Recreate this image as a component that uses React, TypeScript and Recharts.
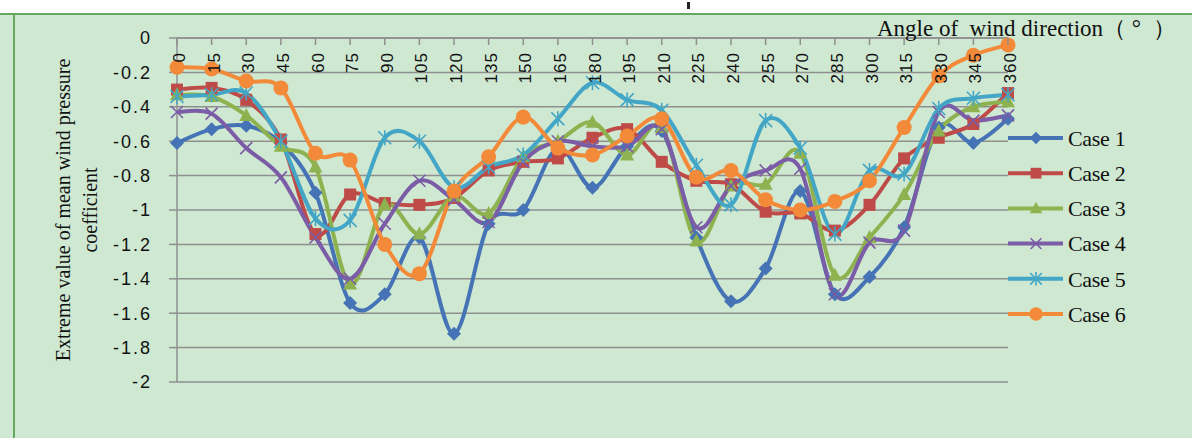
import { CartesianGrid, Legend, Line, LineChart, XAxis, YAxis } from 'recharts';

const ANGLES = [0, 15, 30, 45, 60, 75, 90, 105, 120, 135, 150, 165, 180, 195, 210, 225, 240, 255, 270, 285, 300, 315, 330, 345, 360];
const CASE_1 = [-0.61, -0.53, -0.51, -0.61, -0.9, -1.54, -1.49, -1.16, -1.72, -1.08, -1.0, -0.64, -0.87, -0.63, -0.54, -1.16, -1.53, -1.34, -0.89, -1.49, -1.39, -1.1, -0.52, -0.61, -0.47];
const CASE_2 = [-0.3, -0.29, -0.36, -0.59, -1.14, -0.91, -0.96, -0.97, -0.93, -0.77, -0.72, -0.7, -0.58, -0.53, -0.72, -0.83, -0.85, -1.01, -1.02, -1.12, -0.97, -0.7, -0.58, -0.5, -0.32];
const CASE_3 = [-0.33, -0.34, -0.45, -0.63, -0.75, -1.43, -0.97, -1.14, -0.92, -1.02, -0.69, -0.6, -0.49, -0.68, -0.52, -1.18, -0.86, -0.85, -0.67, -1.38, -1.16, -0.91, -0.54, -0.4, -0.37];
const CASE_4 = [-0.43, -0.44, -0.64, -0.81, -1.16, -1.4, -1.08, -0.83, -0.94, -1.07, -0.72, -0.6, -0.63, -0.63, -0.53, -1.1, -0.86, -0.77, -0.76, -1.49, -1.19, -1.12, -0.43, -0.48, -0.45];
const CASE_5 = [-0.34, -0.33, -0.32, -0.6, -1.05, -1.06, -0.58, -0.6, -0.87, -0.75, -0.68, -0.47, -0.26, -0.36, -0.42, -0.74, -0.97, -0.48, -0.64, -1.14, -0.77, -0.79, -0.41, -0.35, -0.33];
const CASE_6 = [-0.17, -0.18, -0.25, -0.29, -0.67, -0.71, -1.2, -1.37, -0.89, -0.69, -0.46, -0.64, -0.68, -0.57, -0.47, -0.81, -0.77, -0.94, -1.0, -0.95, -0.83, -0.52, -0.22, -0.1, -0.04];
const Y_TICKS = [0, -0.2, -0.4, -0.6, -0.8, -1, -1.2, -1.4, -1.6, -1.8, -2];

const BG = '#cfe8d1';
const BORDER = '#63a85e';
const GRID = '#8f8f8f';
const SERIF = '"Liberation Serif", "Times New Roman", serif';
const SANS = '"Liberation Sans", Arial, sans-serif';

const SERIES = [
    { key: 'case1', name: 'Case 1', color: '#4573b5', marker: 'diamond', values: CASE_1 },
    { key: 'case2', name: 'Case 2', color: '#be4b48', marker: 'square', values: CASE_2 },
    { key: 'case3', name: 'Case 3', color: '#8db24f', marker: 'triangle', values: CASE_3 },
    { key: 'case4', name: 'Case 4', color: '#7b5ca6', marker: 'cross', values: CASE_4 },
    { key: 'case5', name: 'Case 5', color: '#43a6c6', marker: 'star', values: CASE_5 },
    { key: 'case6', name: 'Case 6', color: '#f28a3a', marker: 'circle', values: CASE_6 },
];

const data = ANGLES.map((angle, i) => {
    const row: Record<string, number> = { angle };
    SERIES.forEach((s) => {
        row[s.key] = s.values[i];
    });
    return row;
});

// Excel-like smoothed line (uniform Catmull-Rom through every point)
const excelCurve = (context: any) => {
    let pts: number[][] = [];
    return {
        areaStart() {},
        areaEnd() {},
        lineStart() {
            pts = [];
        },
        point(x: number, y: number) {
            pts.push([+x, +y]);
        },
        lineEnd() {
            const n = pts.length;
            if (!n) return;
            context.moveTo(pts[0][0], pts[0][1]);
            for (let i = 0; i < n - 1; i += 1) {
                const p0 = pts[Math.max(i - 1, 0)];
                const p1 = pts[i];
                const p2 = pts[i + 1];
                const p3 = pts[Math.min(i + 2, n - 1)];
                context.bezierCurveTo(
                    p1[0] + (p2[0] - p0[0]) / 6,
                    p1[1] + (p2[1] - p0[1]) / 6,
                    p2[0] - (p3[0] - p1[0]) / 6,
                    p2[1] - (p3[1] - p1[1]) / 6,
                    p2[0],
                    p2[1],
                );
            }
        },
    };
};

function Marker({ shape, cx, cy, color, scale = 1 }: { shape: string; cx: number; cy: number; color: string; scale?: number }) {
    const s = scale;
    switch (shape) {
        case 'diamond':
            return <polygon points={`${cx},${cy - 7 * s} ${cx + 7 * s},${cy} ${cx},${cy + 7 * s} ${cx - 7 * s},${cy}`} fill={color} />;
        case 'square':
            return <rect x={cx - 6 * s} y={cy - 6 * s} width={12 * s} height={12 * s} fill={color} />;
        case 'triangle':
            return <polygon points={`${cx},${cy - 7.5 * s} ${cx + 7 * s},${cy + 5.5 * s} ${cx - 7 * s},${cy + 5.5 * s}`} fill={color} />;
        case 'cross':
            return (
                <path
                    d={`M${cx - 6 * s},${cy - 6 * s}L${cx + 6 * s},${cy + 6 * s}M${cx - 6 * s},${cy + 6 * s}L${cx + 6 * s},${cy - 6 * s}`}
                    stroke={color}
                    strokeWidth={1.6}
                />
            );
        case 'star':
            return (
                <path
                    d={`M${cx - 6.5 * s},${cy - 6.5 * s}L${cx + 6.5 * s},${cy + 6.5 * s}M${cx - 6.5 * s},${cy + 6.5 * s}L${cx + 6.5 * s},${cy - 6.5 * s}M${cx},${cy - 7.5 * s}L${cx},${cy + 7.5 * s}`}
                    stroke={color}
                    strokeWidth={1.6}
                />
            );
        default:
            return <circle cx={cx} cy={cy} r={7.5 * s} fill={color} />;
    }
}

function AngleTick({ x, y, payload }: { x?: number; y?: number; payload?: { value: number } }) {
    const px = Number(x);
    const py = Number(y);
    return (
        <g>
            <line x1={px} y1={py} x2={px} y2={py + 7} stroke={GRID} strokeWidth={1.5} />
            <text
                transform={`translate(${px + 8},${py + 14}) rotate(-90)`}
                textAnchor="end"
                fontFamily={SANS}
                fontSize={17}
                letterSpacing={1}
                fill="#111"
            >
                {payload?.value}
            </text>
        </g>
    );
}

function YTitle() {
    return (
        <g fontFamily={SERIF} fontSize={20} fill="#111">
            <text transform="translate(70,210) rotate(-90)" textAnchor="middle">
                Extreme value of mean wind pressure
            </text>
            <text transform="translate(97,210) rotate(-90)" textAnchor="middle">
                coefficient
            </text>
        </g>
    );
}

function XTitle() {
    return (
        <text x={877} y={36} fontFamily={SERIF} fontSize={23} fill="#111" style={{ whiteSpace: 'pre' }}>
            {'Angle of  wind direction（ °  ）'}
        </text>
    );
}

function LegendBox() {
    return (
        <svg width={190} height={220} style={{ display: 'block' }}>
            {SERIES.map((s, i) => {
                const cy = 16 + i * 35.2;
                return (
                    <g key={s.key}>
                        <line x1={8} y1={cy} x2={63} y2={cy} stroke={s.color} strokeWidth={4} />
                        <Marker shape={s.marker} cx={36} cy={cy} color={s.color} scale={0.9} />
                        <text x={68} y={cy} dy="0.35em" fontFamily={SERIF} fontSize={22} letterSpacing={-0.3} fill="#111">
                            {s.name}
                        </text>
                    </g>
                );
            })}
        </svg>
    );
}

export default function App() {
    return (
        <div style={{ position: 'absolute', left: 0, top: 0, width: 1192, height: 438, background: BG, overflow: 'hidden' }}>
            <div style={{ position: 'absolute', left: 0, top: 0, width: 1192, height: 13, background: '#fff' }} />
            <div style={{ position: 'absolute', left: 0, top: 13, width: 1192, height: 2, background: BORDER }} />
            <div style={{ position: 'absolute', left: 13, top: 13, width: 2, height: 425, background: BORDER }} />
            <div style={{ position: 'absolute', left: 687, top: 2, width: 3, height: 7, background: '#222' }} />
            <div style={{ position: 'absolute', left: 0, top: 0 }}>
                <LineChart width={1192} height={438} data={data} margin={{ top: 37, right: 184, bottom: 56, left: 0 }}>
                    <CartesianGrid vertical={false} stroke={GRID} strokeWidth={1.5} />
                    <XAxis
                        dataKey="angle"
                        type="number"
                        domain={[0, 360]}
                        ticks={ANGLES}
                        interval={0}
                        orientation="top"
                        height={1}
                        tickSize={0}
                        tickMargin={0}
                        tickLine={false}
                        axisLine={{ stroke: GRID, strokeWidth: 1.5 }}
                        tick={<AngleTick />}
                        label={XTitle}
                    />
                    <YAxis
                        type="number"
                        domain={[-2, 0]}
                        ticks={Y_TICKS}
                        interval={0}
                        width={177}
                        tickSize={8}
                        tickMargin={17}
                        axisLine={{ stroke: GRID, strokeWidth: 1.5 }}
                        tickLine={{ stroke: GRID, strokeWidth: 1.5 }}
                        tick={{ fontFamily: SANS, fontSize: 18, fill: '#111', letterSpacing: 2 }}
                        tickFormatter={(v) => String(Number(Number(v).toFixed(1)))}
                        label={YTitle}
                    />
                    <Legend
                        layout="vertical"
                        align="center"
                        verticalAlign="middle"
                        wrapperStyle={{ left: 1000, top: 122, width: 190 }}
                        content={<LegendBox />}
                    />
                    {SERIES.map((s) => (
                        <Line
                            key={s.key}
                            dataKey={s.key}
                            name={s.name}
                            type={excelCurve as any}
                            stroke={s.color}
                            strokeWidth={4}
                            dot={(p: any) => <Marker key={`${s.key}-${p.index}`} shape={s.marker} cx={p.cx} cy={p.cy} color={s.color} />}
                            activeDot={false}
                            isAnimationActive={false}
                        />
                    ))}
                </LineChart>
            </div>
        </div>
    );
}
